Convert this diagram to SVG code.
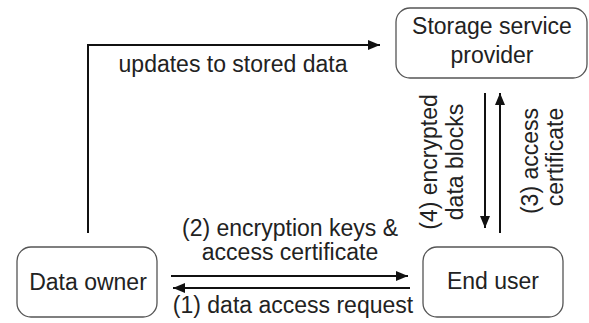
<svg xmlns="http://www.w3.org/2000/svg" width="589" height="323" viewBox="0 0 589 323">
<style>
  .box { fill: #ffffff; stroke: #555555; stroke-width: 1.3; }
  .t { font-family: "Liberation Sans", Arial, sans-serif; font-size: 23px; fill: #222222; text-anchor: middle; }
  .c { fill: none; stroke: #111111; stroke-width: 2; }
</style>
<defs>
  <marker id="ah" viewBox="0 0 12 10" refX="12" refY="5" markerWidth="12" markerHeight="10" markerUnits="userSpaceOnUse" orient="auto">
    <path d="M0,0 L12,5 L0,10 z" fill="#111111"/>
  </marker>
</defs>
<rect width="589" height="323" fill="#ffffff"/>
<g id="storage">
  <rect class="box" x="396" y="8" width="191" height="70" rx="14"/>
  <text class="t" x="492" y="34">Storage service</text>
  <text class="t" x="492" y="63">provider</text>
</g>
<g id="owner">
  <rect class="box" x="17" y="247" width="140" height="70" rx="14"/>
  <text class="t" x="88" y="290">Data owner</text>
</g>
<g id="enduser">
  <rect class="box" x="423" y="247" width="140" height="70" rx="14"/>
  <text class="t" x="493" y="289">End user</text>
</g>
<g id="connectors">
  <path class="c" d="M88,233 V45 H380" marker-end="url(#ah)"/>
  <path class="c" d="M485,93 V228" marker-end="url(#ah)"/>
  <path class="c" d="M500,233 V93" marker-end="url(#ah)"/>
  <path class="c" d="M171,276 H408" marker-end="url(#ah)"/>
  <path class="c" d="M410,288 H173" marker-end="url(#ah)"/>
  <text class="t" x="233" y="72">updates to stored data</text>
  <text class="t" x="290" y="236">(2) encryption keys &amp;</text>
  <text class="t" x="290" y="260">access certificate</text>
  <text class="t" x="293" y="313">(1) data access request</text>
  <text class="t" transform="translate(437,162) rotate(-90)">(4) encrypted</text>
  <text class="t" transform="translate(463,162) rotate(-90)">data blocks</text>
  <text class="t" transform="translate(538,161) rotate(-90)">(3) access</text>
  <text class="t" transform="translate(563,157) rotate(-90)">certificate</text>
</g>
</svg>
